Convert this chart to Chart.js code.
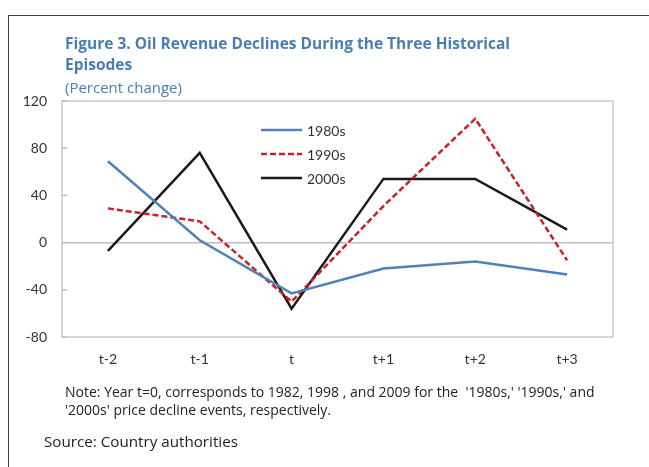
<!DOCTYPE html>
<html>
<head>
<meta charset="utf-8">
<script src="https://cdn.jsdelivr.net/npm/chart.js@4"></script>
<style>
  html, body { margin: 0; padding: 0; background: #fff; }
  #wrap { position: relative; width: 649px; height: 467px; overflow: hidden; font-family: "Open Sans", Lato, sans-serif; }
  #frame { position: absolute; left: 8px; top: 15px; width: 660px; height: 470px; border-left: 1px solid #404040; border-top: 1px solid #404040; }
  #myChart { position: absolute; left: 0; top: 0; }
  .txt { position: absolute; white-space: nowrap; line-height: 1.2; }
  .title { left: 65px; color: #4a7eb0; font-weight: bold; font-size: 15.5px; }
  .sub { left: 65px; top: 78px; color: #4a7eb0; font-size: 15px; }
  .note { left: 65px; color: #222; font-size: 14px; }
  .src { left: 44px; top: 432px; color: #222; font-size: 15.2px; }
</style>
</head>
<body>
<div id="wrap">
  <div id="frame"></div>
  <canvas id="myChart" width="649" height="467"></canvas>
  <div class="txt title" style="top:34px">Figure 3. Oil Revenue Declines During the Three Historical</div>
  <div class="txt title" style="top:55px">Episodes</div>
  <div class="txt sub">(Percent change)</div>
  <div class="txt note" style="top:384px">Note: Year t=0, corresponds to 1982, 1998 , and 2009 for the &nbsp;'1980s,' '1990s,' and</div>
  <div class="txt note" style="top:402px">'2000s' price decline events, respectively.</div>
  <div class="txt src">Source: Country authorities</div>
</div>
<script>
// valores (variación porcentual)
const periodos = ["t-2", "t-1", "t", "t+1", "t+2", "t+3"];
const serie1980 = [69, 2, -43, -22, -16, -27];
const serie1990 = [29, 18, -50, 31, 105, -15];
const serie2000 = [-7, 76, -56, 54, 54, 11];
const etiquetas = ["1980s", "1990s", "2000s"];
const colores = ["#4f81bd", "#c8202c", "#1a1a1a"];

// leyenda dentro del área del gráfico, como en el original
const leyendaInterna = {
  id: "leyendaInterna",
  afterDatasetsDraw(chart) {
    const c = chart.ctx;
    c.save();
    chart.data.datasets.forEach((ds, i) => {
      const y = 130 + i * 24;
      c.strokeStyle = ds.borderColor;
      c.lineWidth = ds.borderWidth;
      c.setLineDash(ds.borderDash || []);
      c.beginPath();
      c.moveTo(261, y);
      c.lineTo(302, y);
      c.stroke();
      c.setLineDash([]);
      c.fillStyle = "#333";
      c.font = "14px Lato, 'Open Sans', sans-serif";
      c.textBaseline = "middle";
      c.fillText(ds.label, 307, y + 1);
    });
    c.restore();
  }
};

// marco del área de trazado y marcas cortas hacia dentro en el eje Y
const marcoArea = {
  id: "marcoArea",
  beforeDatasetsDraw(chart) {
    const c = chart.ctx;
    const a = chart.chartArea;
    const y = chart.scales.y;
    c.save();
    c.strokeStyle = "#c8c8c8";
    c.lineWidth = 1.5;
    c.strokeRect(a.left, a.top, a.right - a.left, a.bottom - a.top);
    c.strokeStyle = "#bfbfbf";
    y.ticks.forEach(t => {
      const py = y.getPixelForValue(t.value);
      c.beginPath();
      c.moveTo(a.left, py);
      c.lineTo(a.left + 5, py);
      c.stroke();
    });
    c.restore();
  }
};

document.addEventListener("DOMContentLoaded", () => {
  const ctx = document.getElementById("myChart");
  const series = [serie1980, serie1990, serie2000];

  new Chart(ctx, {
    type: "line",
    data: {
      labels: periodos,
      datasets: series.map((datos, i) => ({
        label: etiquetas[i],
        data: datos,
        borderColor: colores[i],
        borderWidth: 2.5,
        borderDash: i === 1 ? [6, 3] : [],
        pointRadius: 0,
        tension: 0,
        fill: false
      }))
    },
    options: {
      responsive: false,
      animation: false,
      layout: { padding: { top: 101, right: 36, bottom: 100, left: 0 } },
      plugins: {
        legend: { display: false },
        tooltip: { enabled: false }
      },
      scales: {
        x: {
          offset: true,
          grid: { display: false, drawTicks: false },
          border: { display: false },
          ticks: { color: "#333", padding: 14, font: { family: "Lato", size: 14 } },
          afterFit(s) { s.height = 30; }
        },
        y: {
          min: -80,
          max: 120,
          ticks: { stepSize: 40, color: "#333", padding: 15, font: { family: "Lato", size: 14 } },
          grid: {
            drawTicks: false,
            lineWidth: 1.5,
            color: c => (c.tick && c.tick.value === 0 ? "#bfbfbf" : "rgba(0,0,0,0)")
          },
          border: { display: false },
          afterFit(s) { s.width = 62; }
        }
      }
    },
    plugins: [marcoArea, leyendaInterna]
  });
});
</script>
</body>
</html>
